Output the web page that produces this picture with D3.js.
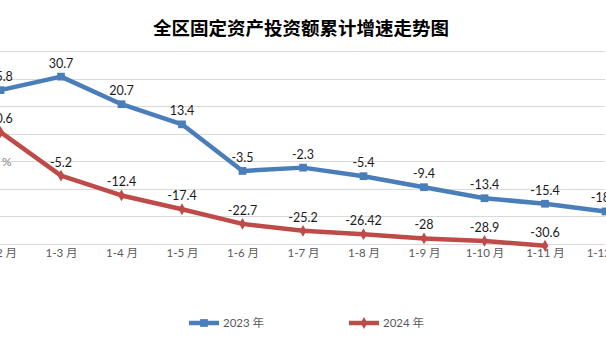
<!DOCTYPE html>
<html>
<head>
<meta charset="utf-8">
<script src="https://cdn.jsdelivr.net/npm/d3@7"></script>
<style>
  html, body { margin: 0; padding: 0; background: #fff; }
  svg { display: block; }
</style>
</head>
<body>
<svg id="chart" width="606" height="340"></svg>
<script>
// Cumulative growth of fixed-asset investment (%), by reporting period
const categories = ["1-2 月", "1-3 月", "1-4 月", "1-5 月", "1-6 月", "1-7 月", "1-8 月", "1-9 月", "1-10 月", "1-11 月", "1-12 月"];
const values2023 = [25.8, 30.7, 20.7, 13.4, -3.5, -2.3, -5.4, -9.4, -13.4, -15.4, -18.2];
const values2024 = [10.6, -5.2, -12.4, -17.4, -22.7, -25.2, -26.42, -28, -28.9, -30.6];
const yTicks = [40, 30, 20, 10, 0, -10, -20, -30];
const seriesNames = ["2023 年", "2024 年"];

const svg = d3.select("#chart");
const numFont = "Lato, 'Noto Sans CJK SC', sans-serif";

const x = d3.scalePoint().domain(categories).range([0.5, 605.5]);
const y = d3.scaleLinear().domain([-30, 40]).range([244, 51]);

// title
svg.append("text")
  .attr("x", 301).attr("y", 35)
  .attr("text-anchor", "middle")
  .attr("font-family", "'Noto Sans CJK SC', sans-serif")
  .attr("font-weight", "bold")
  .attr("font-size", 18.5)
  .attr("fill", "#000")
  .text("全区固定资产投资额累计增速走势图");

// horizontal gridlines
svg.append("g")
  .selectAll("line")
  .data(yTicks)
  .join("line")
  .attr("x1", 0).attr("x2", 605)
  .attr("y1", d => Math.round(y(d)) + 0.5)
  .attr("y2", d => Math.round(y(d)) + 0.5)
  .attr("stroke", "#d9d9d9")
  .attr("stroke-width", 1);

// unit label
svg.append("text")
  .attr("x", 2).attr("y", 166)
  .attr("font-family", numFont)
  .attr("font-size", 12)
  .attr("fill", "#7f7f7f")
  .text("%");

// category axis labels
const xAxis = d3.axisBottom(x).tickSize(0).tickPadding(0);
const gx = svg.append("g").attr("transform", "translate(0,249)").call(xAxis);
gx.select(".domain").remove();
gx.selectAll("text")
  .attr("font-family", numFont)
  .attr("font-size", 11.5)
  .attr("fill", "#595959")
  .attr("dy", "0.71em");

const series = [
  { name: seriesNames[0], values: values2023, color: "#4a7ebb", marker: "square" },
  { name: seriesNames[1], values: values2024, color: "#be4b48", marker: "diamond" }
];

const markerOf = s => s.marker === "square"
  ? d3.symbol().type(d3.symbolSquare).size(60)
  : d3.symbol().type(d3.symbolDiamond).size(40);

const line = d3.line()
  .x((d, i) => x(categories[i]))
  .y(d => y(d));

series.forEach(s => {
  const g = svg.append("g");
  g.append("path")
    .datum(s.values)
    .attr("d", line)
    .attr("fill", "none")
    .attr("stroke", s.color)
    .attr("stroke-width", 4.5)
    .attr("stroke-linejoin", "round");

  g.selectAll("path.m")
    .data(s.values)
    .join("path")
    .attr("class", "m")
    .attr("d", markerOf(s))
    .attr("transform", (d, i) => `translate(${x(categories[i])},${y(d)})`)
    .attr("fill", s.color);

  g.selectAll("text")
    .data(s.values)
    .join("text")
    .attr("x", (d, i) => x(categories[i]))
    .attr("y", d => y(d) - 9)
    .attr("text-anchor", "middle")
    .attr("font-family", numFont)
    .attr("font-size", 12.5)
    .attr("fill", "#1a1a1a")
    .text(d => String(d));
});

// legend
const legendItems = [
  { s: series[0], x0: 189 },
  { s: series[1], x0: 349 }
];
legendItems.forEach(({ s, x0 }) => {
  const g = svg.append("g").attr("transform", `translate(${x0},323)`);
  g.append("line")
    .attr("x1", 0).attr("x2", 30)
    .attr("y1", 0).attr("y2", 0)
    .attr("stroke", s.color)
    .attr("stroke-width", 4.5);
  g.append("path")
    .attr("d", markerOf(s))
    .attr("transform", "translate(15,0)")
    .attr("fill", s.color);
  g.append("text")
    .attr("x", 34).attr("y", 4)
    .attr("font-family", numFont)
    .attr("font-size", 11.5)
    .attr("fill", "#595959")
    .text(s.name);
});
</script>
</body>
</html>
